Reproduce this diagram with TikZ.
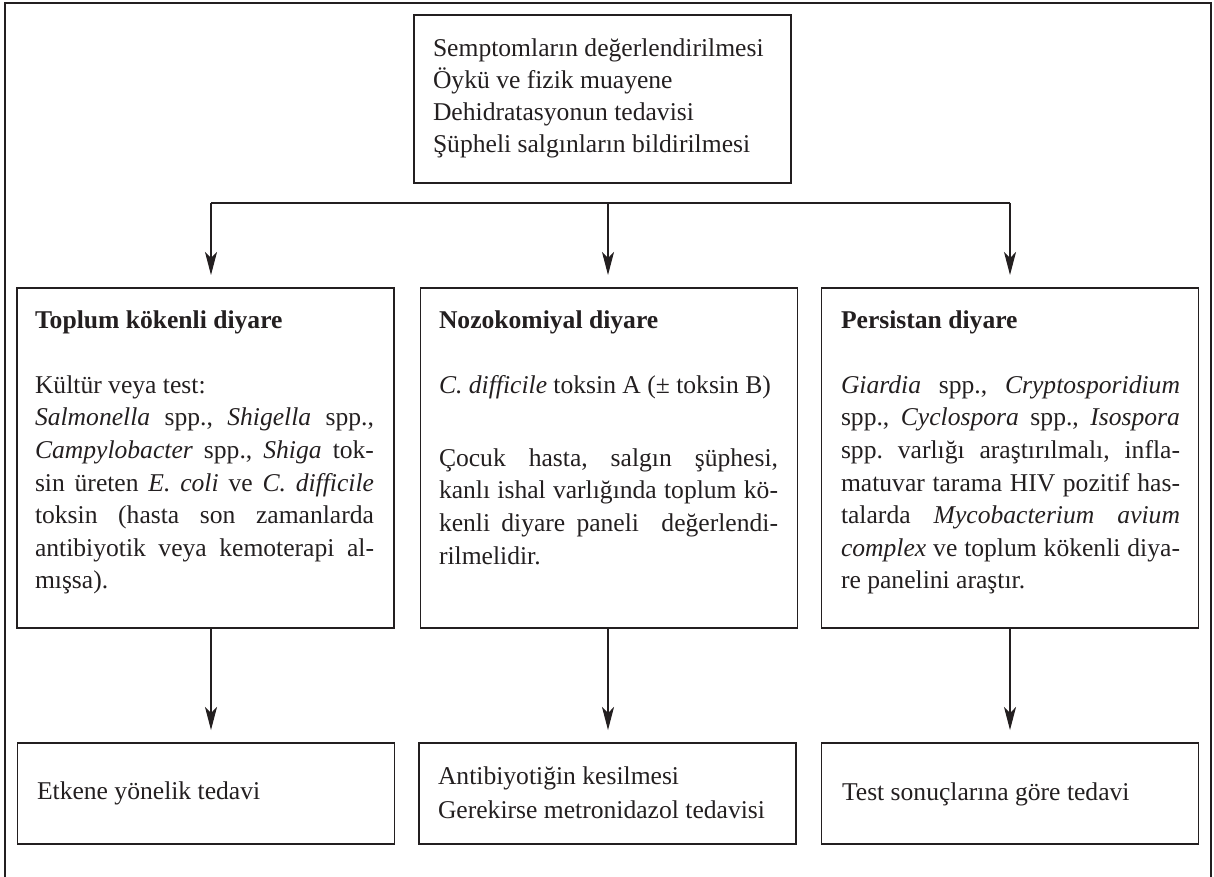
\documentclass[tikz,border=0pt]{standalone}
\usepackage{fontspec}
\setmainfont{Liberation Serif}
\usetikzlibrary{arrows.meta}
\definecolor{ink}{HTML}{231F20}
\frenchspacing
\newlength\colw
\setlength\colw{169.5pt}
\newcommand\jl[1]{\hbox to \colw{\strut #1}}
\newcommand\nl[1]{\hbox{\strut #1}}
\tikzset{
  boxn/.style={draw=ink, line width=0.6pt, rectangle, inner sep=0pt, outer sep=0pt, minimum width=188.5pt},
  txt/.style={anchor=north west, inner sep=0pt, outer sep=0pt, text=ink},
  ln/.style={draw=ink, line width=0.55pt},
  arr/.style={draw=ink, line width=0.55pt, -{Stealth[length=11.5pt,width=6pt,inset=3pt]}, shorten >=6.5pt}
}
\begin{document}
\begin{tikzpicture}[x=0.5pt,y=-0.5pt]
\useasboundingbox (0,0) rectangle (1214,877);
% outer frame
\draw[ln] (5,877) -- (5,3) -- (1211,3) -- (1211,877);
% boxes
\node[boxn, minimum height=84pt] (top) at (602.5,99) {};
\node[boxn, minimum height=170pt] (m1) at (205.5,458) {};
\node[boxn, minimum height=170pt] (m2) at (609,458) {};
\node[boxn, minimum height=170pt] (m3) at (1010,458) {};
\node[boxn, minimum height=50.5pt] (b1) at (206,793.5) {};
\node[boxn, minimum height=50.5pt] (b2) at (607.5,793.5) {};
\node[boxn, minimum height=50.5pt] (b3) at (1010,793.5) {};
% connectors
\coordinate (h1) at (211,203);
\coordinate (h2) at (608,203);
\coordinate (h3) at (1010,203);
\draw[ln] (h1) -- (h3);
\draw[arr] (h1) -- (h1 |- m1.north);
\draw[arr] (h2) -- (h2 |- m2.north);
\draw[arr] (h3) -- (h3 |- m3.north);
\draw[arr] (h1 |- m1.south) -- (h1 |- b1.north);
\draw[arr] (h2 |- m2.south) -- (h2 |- b2.north);
\draw[arr] (h3 |- m3.south) -- (h3 |- b3.north);
% texts
\node[txt] (ttop) at (433,34.6) {\fontsize{12.8}{16}\selectfont\vbox{%
  \nl{Semptomların değerlendirilmesi}
  \nl{Öykü ve fizik muayene}
  \nl{Dehidratasyonun tedavisi}
  \nl{Şüpheli salgınların bildirilmesi}}};
\node[txt] (tm1) at (35,305.2) {\fontsize{12.8}{16.3}\selectfont\vbox{%
  \nl{\bfseries Toplum kökenli diyare}
  \vskip16.3pt
  \nl{Kültür veya test:}
  \jl{\textit{Salmonella} spp., \textit{Shigella} spp.,}
  \jl{\textit{Campylobacter} spp., \textit{Shiga} tok-}
  \jl{sin üreten \textit{E. coli} ve \textit{C. difficile}}
  \jl{toksin (hasta son zamanlarda}
  \jl{antibiyotik veya kemoterapi al-}
  \nl{mışsa).}}};
\node[txt] (tm2) at (439,305.2) {\fontsize{12.8}{16.3}\selectfont\vbox{%
  \nl{\bfseries Nozokomiyal diyare}
  \vskip16.3pt
  \nl{\textit{C. difficile} toksin A (± toksin B)}
  \vskip20.2pt
  \jl{Çocuk hasta, salgın şüphesi,}
  \jl{kanlı ishal varlığında toplum kö-}
  \jl{kenli diyare paneli\ \ değerlendi-}
  \nl{rilmelidir.}}};
\node[txt] (tm3) at (841,305.2) {\fontsize{12.8}{16.3}\selectfont\vbox{%
  \nl{\bfseries Persistan diyare}
  \vskip16.3pt
  \jl{\textit{Giardia} spp., \textit{Cryptosporidium}}
  \jl{spp., \textit{Cyclospora} spp., \textit{Isospora}}
  \jl{spp. varlığı araştırılmalı, infla-}
  \jl{matuvar tarama HIV pozitif has-}
  \jl{talarda \textit{Mycobacterium} \textit{avium}}
  \jl{\textit{complex} ve toplum kökenli diya-}
  \nl{re panelini araştır.}}};
\node[txt] (tb1) at (37,776.6) {\fontsize{12.8}{16}\selectfont\vbox{%
  \nl{Etkene yönelik tedavi}}};
\node[txt] (tb2) at (438,760.2) {\fontsize{12.8}{17}\selectfont\vbox{%
  \nl{Antibiyotiğin kesilmesi}
  \nl{Gerekirse metronidazol tedavisi}}};
\node[txt] (tb3) at (842,777.6) {\fontsize{12.8}{16}\selectfont\vbox{%
  \nl{Test sonuçlarına göre tedavi}}};
\end{tikzpicture}
\end{document}
